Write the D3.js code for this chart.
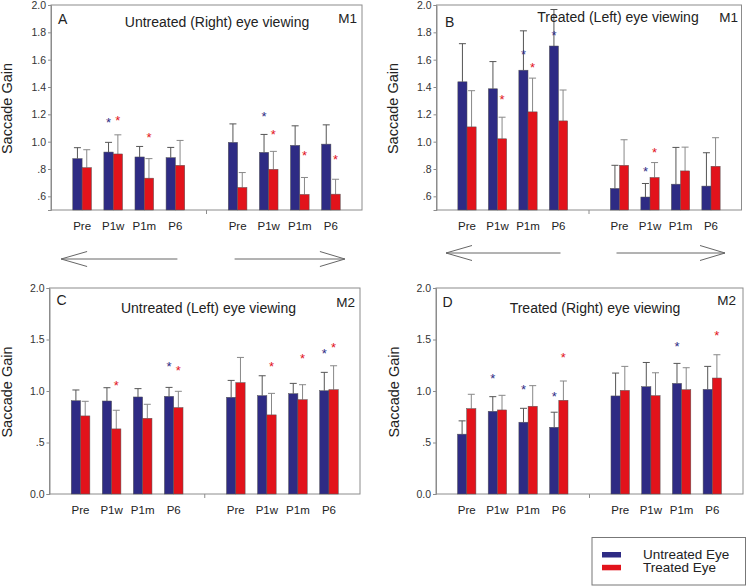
<!DOCTYPE html>
<html>
<head>
<meta charset="utf-8">
<script src="https://cdn.jsdelivr.net/npm/d3@7"></script>
<style>
  html, body { margin: 0; padding: 0; background: #fff; }
  svg { display: block; font-family: "Liberation Sans", Arial, sans-serif; }
</style>
</head>
<body>
<svg id="chart" width="747" height="586"></svg>
<script>
// ---------------- DATA ----------------
const categories = ["Pre", "P1w", "P1m", "P6", "Pre", "P1w", "P1m", "P6"];
const seriesNames = ["Untreated Eye", "Treated Eye"];
const seriesColors = ["#2E2B84", "#E2131B"];

const ticksM1 = [0.6, 0.8, 1.0, 1.2, 1.4, 1.6, 1.8, 2.0];
const ticksM2 = [0.0, 0.5, 1.0, 1.5, 2.0];

// Panel A : Untreated (Right) eye viewing, M1
const aUntreated    = [0.876, 0.924, 0.888, 0.883, 0.995, 0.922, 0.973, 0.982];
const aUntreatedErr = [0.080, 0.071, 0.077, 0.075, 0.135, 0.131, 0.143, 0.141];
const aTreated      = [0.810, 0.910, 0.733, 0.827, 0.665, 0.798, 0.614, 0.616];
const aTreatedErr   = [0.131, 0.140, 0.143, 0.182, 0.109, 0.131, 0.124, 0.109];
const aStars = [[1, 0, 1.155], [1, 1, 1.170], [2, 1, 1.050], [5, 0, 1.203], [5, 1, 1.070], [6, 1, 0.917], [7, 1, 0.888]];

// Panel B : Treated (Left) eye viewing, M1
const bUntreated    = [1.438, 1.387, 1.523, 1.700, 0.658, 0.595, 0.689, 0.675];
const bUntreatedErr = [0.279, 0.199, 0.288, 0.267, 0.169, 0.099, 0.269, 0.244];
const bTreated      = [1.108, 1.021, 1.218, 1.152, 0.827, 0.738, 0.786, 0.820];
const bTreatedErr   = [0.265, 0.158, 0.247, 0.226, 0.187, 0.109, 0.174, 0.209];
const bStars = [[1, 1, 1.324], [2, 0, 1.656], [2, 1, 1.562], [3, 0, 1.792], [5, 0, 0.803], [5, 1, 0.936]];

// Panel C : Untreated (Left) eye viewing, M2
const cUntreated    = [0.906, 0.903, 0.942, 0.948, 0.939, 0.955, 0.974, 1.003];
const cUntreatedErr = [0.104, 0.129, 0.081, 0.087, 0.164, 0.193, 0.100, 0.178];
const cTreated      = [0.758, 0.632, 0.735, 0.839, 1.081, 0.768, 0.916, 1.013];
const cTreatedErr   = [0.142, 0.181, 0.136, 0.158, 0.245, 0.209, 0.145, 0.232];
const cStars = [[1, 1, 1.077], [3, 0, 1.258], [3, 1, 1.226], [5, 1, 1.258], [6, 1, 1.335], [7, 0, 1.387], [7, 1, 1.442]];

// Panel D : Treated (Right) eye viewing, M2
const dUntreated    = [0.581, 0.803, 0.697, 0.648, 0.952, 1.042, 1.074, 1.016];
const dUntreatedErr = [0.129, 0.142, 0.135, 0.146, 0.222, 0.235, 0.194, 0.223];
const dTreated      = [0.829, 0.816, 0.852, 0.910, 1.006, 0.955, 1.013, 1.126];
const dTreatedErr   = [0.139, 0.142, 0.200, 0.187, 0.233, 0.222, 0.213, 0.226];
const dStars = [[1, 0, 1.148], [2, 0, 1.039], [3, 0, 0.974], [3, 1, 1.345], [6, 0, 1.461], [7, 1, 1.565]];

// ---------------- LAYOUT ----------------
const panels = [
  { letter: "A", title: "Untreated (Right) eye viewing", monkey: "M1",
    left: 51, right: 362, top: 5, bottom: 210, domain: [0.5, 2.0], ticks: ticksM1,
    u: aUntreated, ue: aUntreatedErr, t: aTreated, te: aTreatedErr, stars: aStars,
    letterPos: [58, 24], titlePos: [217, 26.5], monkeyPos: [357, 22.5], ylabX: 12, arrows: true, arrowY: 259 },
  { letter: "B", title: "Treated (Left) eye viewing", monkey: "M1",
    left: 436.5, right: 741.5, top: 5, bottom: 210, domain: [0.5, 2.0], ticks: ticksM1,
    u: bUntreated, ue: bUntreatedErr, t: bTreated, te: bTreatedErr, stars: bStars,
    letterPos: [445, 26.5], titlePos: [618, 21.5], monkeyPos: [738, 21.5], ylabX: 398, arrows: true, arrowY: 253 },
  { letter: "C", title: "Untreated (Left) eye viewing", monkey: "M2",
    left: 49.5, right: 360, top: 288, bottom: 494, domain: [0, 2.0], ticks: ticksM2,
    u: cUntreated, ue: cUntreatedErr, t: cTreated, te: cTreatedErr, stars: cStars,
    letterPos: [56.5, 305], titlePos: [208.5, 313], monkeyPos: [355, 306.5], ylabX: 12, arrows: false },
  { letter: "D", title: "Treated (Right) eye viewing", monkey: "M2",
    left: 436, right: 743, top: 288, bottom: 494, domain: [0, 2.0], ticks: ticksM2,
    u: dUntreated, ue: dUntreatedErr, t: dTreated, te: dTreatedErr, stars: dStars,
    letterPos: [442.5, 307], titlePos: [595, 312.5], monkeyPos: [736, 305], ylabX: 399, arrows: false }
];

const svg = d3.select("#chart");
const axisColor = "#8c8c8c";
const textColor = "#222";

const fmt = d => d === 0 ? "0.0" : (d < 1 ? d3.format(".1f")(d).replace(/^0/, "") : d3.format(".1f")(d));
const slotOf = i => (i < 4 ? i : i + 1);

panels.forEach(p => {
  const g = svg.append("g");
  const x = d3.scalePoint().domain(d3.range(9)).range([p.left, p.right]).padding(1);
  const y = d3.scaleLinear().domain(p.domain).range([p.bottom, p.top]);
  const bw = x.step() * 0.3;

  // frame
  g.append("rect")
    .attr("x", p.left).attr("y", p.top)
    .attr("width", p.right - p.left).attr("height", p.bottom - p.top)
    .attr("fill", "none").attr("stroke", axisColor).attr("stroke-width", 1);

  // y axis
  const yAxis = d3.axisLeft(y).tickValues(p.ticks).tickFormat(fmt).tickSize(3).tickPadding(2);
  const ya = g.append("g").attr("transform", `translate(${p.left},0)`).call(yAxis);
  ya.select(".domain").attr("stroke", axisColor);
  ya.selectAll(".tick line").attr("stroke", axisColor);
  ya.selectAll(".tick text").attr("fill", "#333").style("font-size", "10.5px")
    .style("font-family", '"Liberation Sans", Arial, sans-serif');

  // middle tick on x axis
  g.append("line")
    .attr("x1", x(4)).attr("x2", x(4))
    .attr("y1", p.bottom).attr("y2", p.bottom + 4)
    .attr("stroke", axisColor);

  // category labels
  g.selectAll(".cat").data(categories).enter().append("text")
    .attr("x", (d, i) => x(slotOf(i)))
    .attr("y", p.bottom + 20)
    .attr("text-anchor", "middle")
    .attr("fill", textColor)
    .style("font-size", "11.5px")
    .text(d => d);

  // bars + error bars
  const series = [
    { vals: p.u, errs: p.ue, color: seriesColors[0], off: -1, errColor: "#555" },
    { vals: p.t, errs: p.te, color: seriesColors[1], off: 0, errColor: "#888" }
  ];
  series.forEach(s => {
    const gx = i => x(slotOf(i)) + s.off * bw;
    g.selectAll(null).data(s.vals).enter().append("line")
      .attr("x1", (d, i) => gx(i) + bw / 2).attr("x2", (d, i) => gx(i) + bw / 2)
      .attr("y1", d => y(d)).attr("y2", (d, i) => y(d + s.errs[i]))
      .attr("stroke", s.errColor).attr("stroke-width", 1);
    g.selectAll(null).data(s.vals).enter().append("line")
      .attr("x1", (d, i) => gx(i) + bw / 2 - 3.5).attr("x2", (d, i) => gx(i) + bw / 2 + 3.5)
      .attr("y1", (d, i) => y(d + s.errs[i])).attr("y2", (d, i) => y(d + s.errs[i]))
      .attr("stroke", s.errColor).attr("stroke-width", 1);
    g.selectAll(null).data(s.vals).enter().append("rect")
      .attr("x", (d, i) => gx(i)).attr("width", bw)
      .attr("y", d => y(d)).attr("height", d => y(p.domain[0]) - y(d))
      .attr("fill", s.color).attr("stroke", "#555").attr("stroke-width", 0.5);
  });

  // significance stars
  g.selectAll(".star").data(p.stars).enter().append("text")
    .attr("x", d => x(slotOf(d[0])) + (d[1] === 0 ? -bw / 2 : bw / 2))
    .attr("y", d => y(d[2]) + 7)
    .attr("text-anchor", "middle")
    .attr("fill", d => seriesColors[d[1]])
    .style("font-size", "13px")
    .text("*");

  // panel letter, title, monkey label
  g.append("text").attr("x", p.letterPos[0]).attr("y", p.letterPos[1])
    .attr("fill", textColor).style("font-size", "14px").text(p.letter);
  g.append("text").attr("x", p.titlePos[0]).attr("y", p.titlePos[1])
    .attr("text-anchor", "middle").attr("fill", textColor).style("font-size", "14px").text(p.title);
  g.append("text").attr("x", p.monkeyPos[0]).attr("y", p.monkeyPos[1])
    .attr("text-anchor", "end").attr("fill", textColor).style("font-size", "13.5px").text(p.monkey);

  // y label
  const cy = (p.top + p.bottom) / 2 + 1;
  g.append("text")
    .attr("transform", `translate(${p.ylabX},${cy}) rotate(-90)`)
    .attr("text-anchor", "middle").attr("fill", textColor)
    .style("font-size", "14.5px").text("Saccade Gain");

  // direction arrows
  if (p.arrows) {
    const ay = p.arrowY;
    const l0 = x(0) - 21, l1 = x(3) + 2;
    const r0 = x(5) - 3, r1 = x(8) + 14;
    const ag = g.append("g").attr("stroke", "#666").attr("stroke-width", 1).attr("fill", "none");
    ag.append("path").attr("d", `M${l1},${ay}H${l0}M${l0 + 26},${ay - 7.5}L${l0},${ay}L${l0 + 26},${ay + 7.5}`);
    ag.append("path").attr("d", `M${r0},${ay}H${r1}M${r1 - 25},${ay - 7.5}L${r1},${ay}L${r1 - 25},${ay + 7.5}`);
  }
});

// legend
const lg = svg.append("g");
lg.append("rect").attr("x", 592).attr("y", 537.5).attr("width", 153.5).attr("height", 47.5)
  .attr("fill", "#fff").attr("stroke", "#777").attr("stroke-width", 1);
seriesNames.forEach((name, i) => {
  lg.append("rect").attr("x", 602).attr("y", 552 + i * 12.8).attr("width", 19).attr("height", 5.5)
    .attr("fill", seriesColors[i]);
  lg.append("text").attr("x", 643).attr("y", 558.5 + i * 13)
    .attr("fill", textColor).style("font-size", "13.5px").text(name);
});
</script>
</body>
</html>
